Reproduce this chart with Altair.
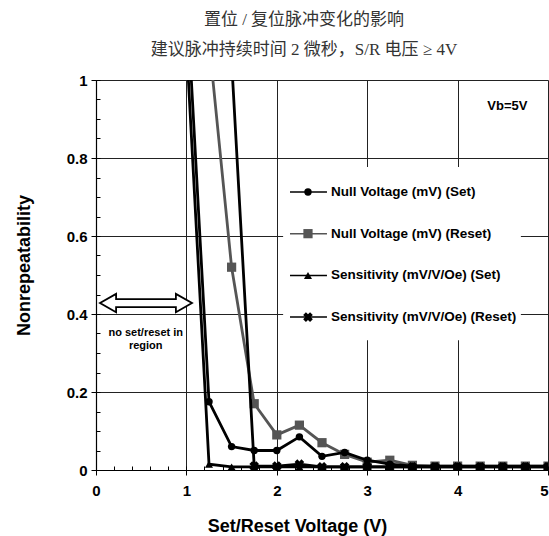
import altair as alt
import pandas as pd

# ---- data ----
volts = [1.0, 1.25, 1.5, 1.75, 2.0, 2.25, 2.5, 2.75, 3.0, 3.25, 3.5, 3.75, 4.0, 4.25, 4.5, 4.75, 5.0]
null_set = [1.23, 0.175, 0.06, 0.05, 0.05, 0.085, 0.035, 0.045, 0.025, 0.015, 0.01, 0.01, 0.01, 0.01, 0.01, 0.01, 0.01]
null_reset = [None, 1.10, 0.52, 0.17, 0.09, 0.115, 0.07, 0.04, 0.02, 0.025, 0.012, 0.01, 0.01, 0.01, 0.01, 0.01, 0.01]
sens_set = [1.095, 0.015, 0.008, 0.008, 0.008, 0.008, 0.008, 0.008, 0.008, 0.008, 0.008, 0.008, 0.008, 0.008, 0.008, 0.008, 0.008]
sens_reset = [None, None, 1.05, 0.01, 0.01, 0.015, 0.008, 0.008, 0.008, 0.008, 0.008, 0.008, 0.008, 0.008, 0.008, 0.008, 0.008]

series_names = [
    "Null Voltage (mV) (Set)",
    "Null Voltage (mV) (Reset)",
    "Sensitivity (mV/V/Oe) (Set)",
    "Sensitivity (mV/V/Oe) (Reset)",
]
series_values = [null_set, null_reset, sens_set, sens_reset]

x_ticks = [0, 1, 2, 3, 4, 5]
y_ticks = [0, 0.2, 0.4, 0.6, 0.8, 1]
x_minor = [i * 0.2 for i in range(26)]
y_minor = [i * 0.05 for i in range(21)]

title_lines = ["置位 / 复位脉冲变化的影响", "建议脉冲持续时间 2 微秒，S/R 电压 ≥ 4V"]
x_title = "Set/Reset Voltage (V)"
y_title = "Nonrepeatability"
vb_label = "Vb=5V"
note_label = "no set/reset in\nregion"
note_pos = (0.55, 0.352)
arrow_pos = (0.553, 0.428)
vb_pos = (4.55, 0.933)

# ---- styles ----
styles = [
    dict(color="#000000", shape="circle", angle=0, size=55),
    dict(color="#555555", shape="square", angle=0, size=85),
    dict(color="#000000", shape="triangle-up", angle=0, size=65),
    dict(color="#000000", shape="cross", angle=45, size=95),
]
draw_order = [1, 0, 2, 3]

XS = alt.Scale(domain=[0, 5], nice=False, zero=False)
YS = alt.Scale(domain=[0, 1], nice=False, zero=False)
LABEL_FONT = "Liberation Sans"

rows = []
for name, vals in zip(series_names, series_values):
    for v, y in zip(volts, vals):
        if y is not None:
            rows.append({"series": name, "x": v, "y": y})
df = pd.DataFrame(rows)

base = alt.Chart(df)

# main axis layer (grid + labels)
axis_layer = alt.Chart(pd.DataFrame({"x": [0], "y": [0]})).mark_point(opacity=0).encode(
    x=alt.X("x:Q", scale=XS, title=x_title,
            axis=alt.Axis(values=x_ticks, grid=True, gridColor="#222222", gridWidth=1,
                          domainColor="#000000", domainWidth=1.2, tickColor="#000000",
                          tickSize=5, labelFont=LABEL_FONT, labelFontWeight="bold",
                          labelFontSize=15, labelColor="#000000", labelPadding=8,
                          labelAlign=alt.ExprRef(expr="datum.value >= 5 ? 'right' : 'center'"),
                          titleFont=LABEL_FONT, titleFontWeight="bold", titleFontSize=18,
                          titleColor="#000000", titleX=201, titleY=56, titleAlign="center",
                          titleBaseline="middle", labelFlush=False)),
    y=alt.Y("y:Q", scale=YS, title=y_title,
            axis=alt.Axis(values=y_ticks, grid=True, gridColor="#222222", gridWidth=1,
                          format="~g", domainColor="#000000", domainWidth=1.2,
                          tickColor="#000000", tickSize=5, labelFont=LABEL_FONT,
                          labelFontWeight="bold", labelFontSize=15, labelColor="#000000",
                          labelPadding=4, titleFont=LABEL_FONT, titleFontWeight="bold",
                          titleFontSize=18, titleColor="#000000", titleX=-72, titleY=185,
                          titleAlign="center", titleBaseline="middle", titleAngle=270,
                          labelFlush=False)),
)

# minor ticks pointing inward
minor_layer = alt.Chart(pd.DataFrame({"x": [0], "y": [0]})).mark_point(opacity=0).encode(
    x=alt.X("x:Q", scale=XS, title=None,
            axis=alt.Axis(orient="top", offset=-390, values=x_minor, labels=False,
                          domain=False, grid=False, tickSize=4, tickColor="#000000")),
    y=alt.Y("y:Q", scale=YS, title=None,
            axis=alt.Axis(orient="right", offset=-452, values=y_minor, labels=False,
                          domain=False, grid=False, tickSize=4, tickColor="#000000")),
)

# legend
leg_x0, leg_x1, leg_xm, leg_xt = 2.146, 2.555, 2.345, 2.60
leg_top, leg_step = 0.713, 0.107
leg_df = pd.DataFrame({
    "series": series_names,
    "idx": list(range(len(series_names))),
})
leg_df["ly"] = leg_top - leg_df["idx"] * leg_step

legend_bg = alt.Chart(pd.DataFrame({"x": [2.07], "x2": [4.70], "y": [0.333], "y2": [0.777]})).mark_rect(
    color="white").encode(
    x=alt.X("x:Q", scale=XS, axis=None), x2="x2:Q",
    y=alt.Y("y:Q", scale=YS, axis=None), y2="y2:Q")

layers = [axis_layer, minor_layer, legend_bg]

for i in draw_order:
    name = series_names[i]
    st = styles[i]
    sub = base.transform_filter(alt.datum.series == name)
    line = sub.mark_line(color=st["color"], strokeWidth=2.8, clip=True).encode(
        x=alt.X("x:Q", scale=XS, axis=None), y=alt.Y("y:Q", scale=YS, axis=None))
    pts = sub.mark_point(shape=st["shape"], angle=st["angle"], size=st["size"], filled=True,
                         color=st["color"], opacity=1, clip=True).encode(
        x=alt.X("x:Q", scale=XS, axis=None), y=alt.Y("y:Q", scale=YS, axis=None))
    layers += [line, pts]

for i, name in enumerate(series_names):
    st = styles[i]
    lsub = alt.Chart(leg_df).transform_filter(alt.datum.series == name)
    layers.append(lsub.mark_rule(color=st["color"], strokeWidth=1.5).encode(
        x=alt.X("x0:Q", scale=XS, axis=None), x2="x1:Q",
        y=alt.Y("ly:Q", scale=YS, axis=None)).transform_calculate(x0=str(leg_x0), x1=str(leg_x1)))
    layers.append(lsub.mark_point(shape=st["shape"], angle=st["angle"], size=st["size"], filled=True,
                                  color=st["color"], opacity=1).encode(
        x=alt.X("xm:Q", scale=XS, axis=None),
        y=alt.Y("ly:Q", scale=YS, axis=None)).transform_calculate(xm=str(leg_xm)))
    layers.append(lsub.mark_text(align="left", baseline="middle", font=LABEL_FONT,
                                 fontWeight="bold", fontSize=13.5, color="#000000").encode(
        x=alt.X("xt:Q", scale=XS, axis=None),
        y=alt.Y("ly:Q", scale=YS, axis=None), text="series:N").transform_calculate(xt=str(leg_xt)))

# annotations
arrow_path = ("M-1,0 L-0.65,-0.2 L-0.65,-0.087 L0.65,-0.087 L0.65,-0.2 L1,0 "
              "L0.65,0.2 L0.65,0.087 L-0.65,0.087 L-0.65,0.2 Z")
ann_df = pd.DataFrame({"x": [arrow_pos[0]], "y": [arrow_pos[1]]})
layers.append(alt.Chart(ann_df).mark_point(shape=arrow_path, size=92 * 92, filled=True,
                                           fill="white", stroke="black", strokeWidth=1.8,
                                           opacity=1).encode(
    x=alt.X("x:Q", scale=XS, axis=None), y=alt.Y("y:Q", scale=YS, axis=None)))

note_df = pd.DataFrame({"x": [note_pos[0]], "y": [note_pos[1]], "t": [note_label]})
layers.append(alt.Chart(note_df).mark_text(align="center", baseline="middle", font=LABEL_FONT,
                                           fontWeight="bold", fontSize=11, lineHeight=13,
                                           lineBreak="\n", color="#000000").encode(
    x=alt.X("x:Q", scale=XS, axis=None), y=alt.Y("y:Q", scale=YS, axis=None), text="t:N"))

vb_df = pd.DataFrame({"x": [vb_pos[0]], "y": [vb_pos[1]], "t": [vb_label]})
layers.append(alt.Chart(vb_df).mark_text(align="center", baseline="middle", font=LABEL_FONT,
                                         fontWeight="bold", fontSize=13, color="#000000").encode(
    x=alt.X("x:Q", scale=XS, axis=None), y=alt.Y("y:Q", scale=YS, axis=None), text="t:N"))

chart = alt.layer(*layers).resolve_axis(x="independent", y="independent").properties(
    width=452, height=390,
    autosize=alt.AutoSizeParams(type="none"),
    padding={"left": 96, "top": 80, "right": 1, "bottom": 66},
    title=alt.TitleParams(text=title_lines, font="Liberation Serif, Noto Sans CJK SC",
                          fontSize=17, fontWeight="normal", color="#333333",
                          anchor="middle", dx=-18, offset=14, lineHeight=30),
).configure_view(strokeWidth=0).configure(background="white")

chart.save("out.html", embed_options={"renderer": "svg", "actions": False})
